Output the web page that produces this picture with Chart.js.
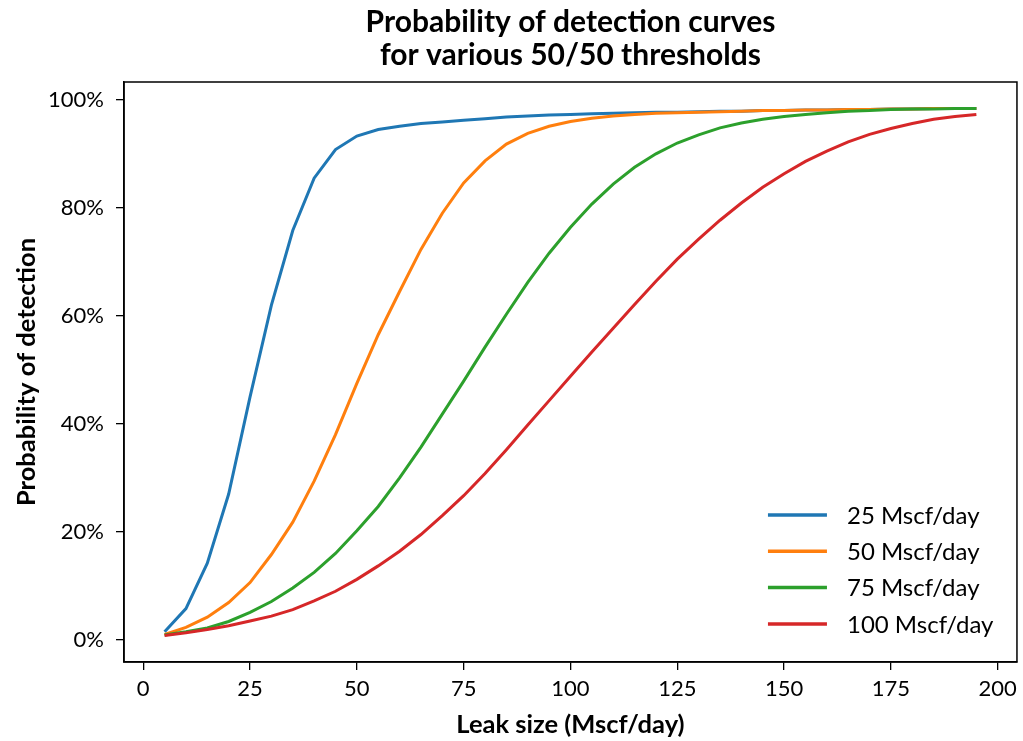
<!DOCTYPE html>
<html>
<head>
<meta charset="utf-8">
<script src="https://cdn.jsdelivr.net/npm/chart.js@4.4.1/dist/chart.umd.min.js"></script>
<style>
    html, body { margin: 0; padding: 0; background: #ffffff; }
    #wrap { width: 1023px; height: 741px; }
</style>
</head>
<body>
<div id="wrap"><canvas id="podChart" width="1023" height="741"></canvas></div>
<script>
// leak sizes (Mscf/day)
const leakSizes = [5, 10, 15, 20, 25, 30, 35, 40, 45, 50, 55, 60, 65, 70, 75, 80, 85, 90, 95, 100,
    105, 110, 115, 120, 125, 130, 135, 140, 145, 150, 155, 160, 165, 170, 175, 180, 185, 190, 195];

// probability of detection (%)
const pod25 = [1.5, 5.8, 14.2, 27.0, 45.0, 62.0, 75.8, 85.5, 90.8, 93.3, 94.5, 95.1, 95.6, 95.9, 96.2, 96.5,
    96.8, 97.0, 97.2, 97.3, 97.4, 97.5, 97.6, 97.7, 97.7, 97.8, 97.9, 97.9, 98.0, 98.0, 98.1, 98.1, 98.2,
    98.2, 98.3, 98.3, 98.4, 98.4, 98.4];
const pod50 = [1.0, 2.3, 4.2, 6.9, 10.6, 15.8, 21.8, 29.4, 38.0, 47.5, 56.5, 64.5, 72.3, 79.0, 84.6, 88.7,
    91.8, 93.8, 95.1, 96.0, 96.6, 97.0, 97.3, 97.5, 97.6, 97.7, 97.8, 97.9, 98.0, 98.0, 98.1, 98.1, 98.2,
    98.2, 98.3, 98.3, 98.4, 98.4, 98.4];
const pod75 = [0.9, 1.5, 2.2, 3.4, 5.1, 7.1, 9.6, 12.5, 16.0, 20.2, 24.7, 30.0, 35.7, 41.8, 47.9, 54.2,
    60.3, 66.2, 71.6, 76.4, 80.7, 84.4, 87.5, 90.0, 92.0, 93.5, 94.8, 95.7, 96.4, 96.9, 97.3, 97.6, 97.9,
    98.0, 98.2, 98.3, 98.3, 98.4, 98.4];
const pod100 = [0.8, 1.3, 1.9, 2.6, 3.5, 4.4, 5.6, 7.2, 9.0, 11.2, 13.7, 16.4, 19.5, 23.0, 26.7, 30.8,
    35.2, 39.8, 44.3, 48.8, 53.3, 57.7, 62.1, 66.4, 70.5, 74.2, 77.7, 80.9, 83.8, 86.3, 88.6, 90.5, 92.2,
    93.6, 94.7, 95.6, 96.4, 96.9, 97.3];

const seriesLabels = ['25 Mscf/day', '50 Mscf/day', '75 Mscf/day', '100 Mscf/day'];
const seriesColors = ['#1f77b4', '#ff7f0e', '#2ca02c', '#d62728'];
const xTicks = [0, 25, 50, 75, 100, 125, 150, 175, 200];
const yTicks = [0, 20, 40, 60, 80, 100];

const FONT = 'Lato, "DejaVu Sans", sans-serif';

function toPoints(values) {
    return leakSizes.map((x, i) => ({ x, y: values[i] }));
}

// full box round the plot + legend in the lower right
const framePlugin = {
    id: 'frame',
    afterDraw(chart) {
        const { ctx, chartArea: a } = chart;
        ctx.save();
        ctx.strokeStyle = '#000';
        ctx.lineWidth = 1.5;
        ctx.strokeRect(a.left, a.top, a.right - a.left, a.bottom - a.top);

        // legend
        ctx.font = '24px ' + FONT;
        ctx.textBaseline = 'middle';
        ctx.textAlign = 'left';
        ctx.lineCap = 'butt';
        chart.data.datasets.forEach((ds, i) => {
            const y = a.bottom - 147 + i * 36.3;
            ctx.strokeStyle = ds.borderColor;
            ctx.lineWidth = 3.5;
            ctx.beginPath();
            ctx.moveTo(a.right - 249, y);
            ctx.lineTo(a.right - 190, y);
            ctx.stroke();
            ctx.fillStyle = '#000';
            ctx.fillText(ds.label, a.right - 170, y + 1);
        });
        ctx.restore();
    }
};

const ctx = document.getElementById('podChart').getContext('2d');
const podData = [pod25, pod50, pod75, pod100];

new Chart(ctx, {
    type: 'line',
    data: {
        datasets: podData.map((vals, i) => ({
            label: seriesLabels[i],
            data: toPoints(vals),
            borderColor: seriesColors[i],
            backgroundColor: seriesColors[i],
            borderWidth: 3,
            pointRadius: 0,
            tension: 0,
            fill: false,
            order: 4 - i
        }))
    },
    options: {
        responsive: false,
        animation: false,
        events: [],
        layout: { padding: { left: 0, right: 6, top: 0, bottom: 0 } },
        scales: {
            x: {
                type: 'linear',
                min: -4.5,
                max: 204.5,
                afterBuildTicks: s => { s.ticks = xTicks.map(v => ({ value: v })); },
                afterFit: s => { s.height = 79; },
                grid: { display: true, drawOnChartArea: false, drawTicks: true, tickLength: 8, color: '#000', lineWidth: 1.3 },
                border: { display: true, color: '#000', width: 1.5 },
                ticks: { color: '#000', font: { family: FONT, size: 22 }, padding: 6, maxRotation: 0 },
                title: {
                    display: true,
                    text: 'Leak size (Mscf/day)',
                    color: '#000',
                    font: { family: FONT, size: 25.5, weight: 'bold', lineHeight: 1.0 },
                    padding: { top: 0, bottom: 3 }
                }
            },
            y: {
                type: 'linear',
                min: -4.1,
                max: 103.3,
                afterBuildTicks: s => { s.ticks = yTicks.map(v => ({ value: v })); },
                afterFit: s => { s.width = 124; },
                grid: { display: true, drawOnChartArea: false, drawTicks: true, tickLength: 8, color: '#000', lineWidth: 1.3 },
                border: { display: true, color: '#000', width: 1.5 },
                ticks: { color: '#000', font: { family: FONT, size: 22 }, padding: 12, callback: v => v + '%' },
                title: {
                    display: true,
                    text: 'Probability of detection',
                    color: '#000',
                    font: { family: FONT, size: 25.5, weight: 'bold' },
                    padding: { top: 11, bottom: 0 }
                }
            }
        },
        plugins: {
            legend: { display: false },
            tooltip: { enabled: false },
            title: {
                display: true,
                fullSize: false,
                text: ['Probability of detection curves', 'for various 50/50 thresholds'],
                color: '#000',
                font: { family: FONT, size: 30, weight: 'bold', lineHeight: 33 / 30 },
                padding: { top: 6, bottom: 10 }
            }
        }
    },
    plugins: [framePlugin]
});
</script>
</body>
</html>
